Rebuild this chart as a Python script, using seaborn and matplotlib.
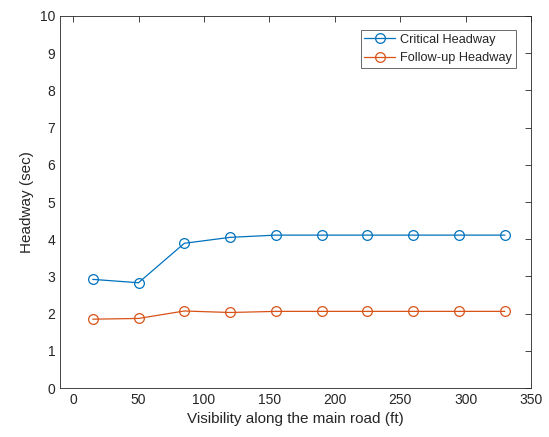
import numpy as np
import pandas as pd
import matplotlib
matplotlib.use('Agg')
import matplotlib.pyplot as plt
import seaborn as sns

visibility = [15, 50, 85, 120, 155, 190, 225, 260, 295, 330]
critical = [2.92, 2.83, 3.89, 4.05, 4.11, 4.11, 4.11, 4.11, 4.11, 4.11]
follow_up = [1.85, 1.87, 2.07, 2.03, 2.06, 2.06, 2.06, 2.06, 2.06, 2.06]

df = pd.DataFrame({
    'Visibility': visibility * 2,
    'Headway': critical + follow_up,
    'Series': ['Critical Headway'] * len(visibility) + ['Follow-up Headway'] * len(visibility),
})

sns.set_style('white')
plt.rcParams['font.family'] = ['Liberation Sans', 'DejaVu Sans']

fig = plt.figure(figsize=(5.49, 4.37), dpi=100)
ax = fig.add_axes([0.1093, 0.1121, 0.858, 0.8513])

palette = {'Critical Headway': '#0072BD', 'Follow-up Headway': '#D95319'}
sns.lineplot(data=df, x='Visibility', y='Headway', hue='Series', palette=palette,
             marker='o', markersize=7, markerfacecolor='none', markeredgewidth=0.9,
             linewidth=0.9, ax=ax)
for line in ax.get_lines():
    line.set_markeredgecolor(line.get_color())

ax.set_xlim(-10, 350)
ax.set_ylim(0, 10)
ax.set_xticks(np.arange(0, 351, 50))
ax.set_yticks(np.arange(0, 11, 1))
ax.tick_params(direction='in', length=4, width=0.6, labelsize=10, colors='#262626',
               top=True, right=True, labeltop=False, labelright=False)
for sp in ax.spines.values():
    sp.set_color('#262626')
    sp.set_linewidth(0.6)
ax.set_xlabel('Visibility along the main road (ft)', fontsize=11, color='#262626')
ax.set_ylabel('Headway (sec)', fontsize=11, color='#262626')

leg = ax.legend(loc='upper right', bbox_to_anchor=(0.968, 0.962), fontsize=9.2,
                frameon=True, fancybox=False, edgecolor='#262626', handlelength=2.4,
                borderaxespad=0.0, labelspacing=0.5, borderpad=0.3, handletextpad=0.4)
leg.get_frame().set_linewidth(0.6)
for h in leg.get_lines():
    h.set_markerfacecolor('none')
    h.set_markeredgecolor(h.get_color())

fig.savefig('out.png', dpi=100)
